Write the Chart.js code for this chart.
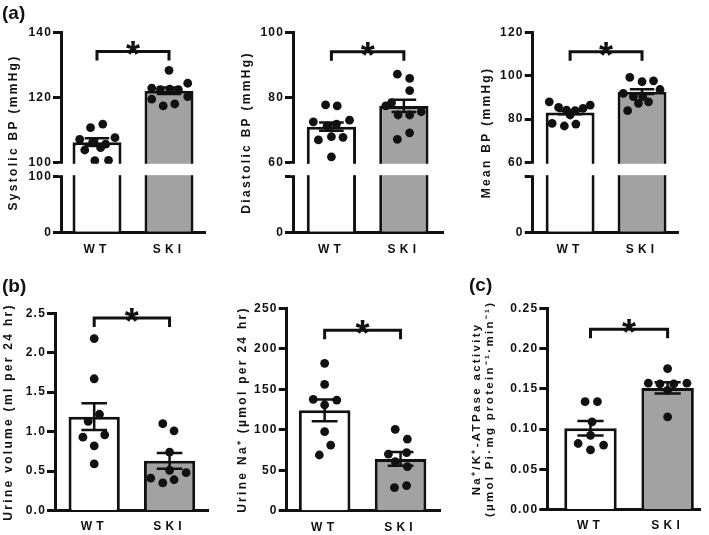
<!DOCTYPE html>
<html>
<head>
<meta charset="utf-8">
<script src="https://cdn.jsdelivr.net/npm/chart.js@4.4.1/dist/chart.umd.min.js"></script>
<style>
  body { margin: 0; background: #fff; }
  #fig { position: relative; width: 709px; height: 535px; overflow: hidden; }
  #fig canvas { position: absolute; }
  .tag { position: absolute; font: bold 19px "Liberation Sans", Arial, sans-serif; line-height: 19px; color: #111; }
</style>
</head>
<body>
<div id="fig">
  <canvas id="sys" width="230" height="265" style="left:0;top:0"></canvas>
  <canvas id="dia" width="230" height="265" style="left:230px;top:0"></canvas>
  <canvas id="map" width="249" height="265" style="left:460px;top:0"></canvas>
  <canvas id="vol" width="230" height="270" style="left:0;top:265px"></canvas>
  <canvas id="na" width="230" height="270" style="left:230px;top:265px"></canvas>
  <canvas id="atp" width="249" height="270" style="left:460px;top:265px"></canvas>
  <div class="tag" style="left:2px;top:3px">(a)</div>
  <div class="tag" style="left:2px;top:276px">(b)</div>
  <div class="tag" style="left:469px;top:275px">(c)</div>
</div>
<script>
const groups = ["WT", "SKI"];

// (a) systolic BP, mmHg
const sysWT = [110.7, 111.8, 107.1, 107.6, 106.2, 105.6, 103.8, 104.5, 100.5, 100.6];
const sysWTJitter = [-0.09, 0.08, -0.24, 0.25, -0.06, 0.12, -0.17, 0.05, -0.03, 0.16];
const sysSKI = [128.4, 124.4, 122.9, 122.4, 122.6, 122.4, 119.5, 120.3, 117.4, 118.0];
const sysSKIJitter = [0, 0.26, -0.24, -0.12, 0.01, 0.13, -0.24, 0.26, -0.08, 0.08];
const sysMean = [106.2, 122.1];
const sysSem = [1.2, 1.0];
const sysTicks = [0, 100, 100, 120, 140];
const sysTickLabels = ["0", "100", "100", "120", "140"];

// (a) diastolic BP
const diaWT = [77.7, 77.4, 72.5, 73.0, 71.2, 71.8, 66.9, 67.9, 67.7, 61.7];
const diaWTJitter = [-0.08, 0.08, -0.25, 0.25, -0.06, 0.07, -0.18, 0, 0.16, 0];
const diaSKI = [87.2, 85.9, 82.1, 78.4, 77.4, 74.6, 74.6, 75.6, 69.1, 67.1];
const diaSKIJitter = [-0.09, 0.08, 0.08, -0.17, -0.25, -0.08, 0.08, 0.24, 0.08, -0.09];
const diaMean = [71.0, 77.4];
const diaSem = [1.3, 1.9];
const diaTicks = [0, 60, 60, 80, 100];
const diaTickLabels = ["0", "", "60", "80", "100"];

// (a) mean BP
const mapWT = [88.0, 85.4, 84.2, 83.9, 85.0, 86.5, 81.9, 78.0, 76.8, 77.7];
const mapWTJitter = [-0.29, -0.16, -0.05, 0.07, 0.18, 0.28, 0, -0.25, -0.08, 0.08];
const mapSKI = [99.3, 97.3, 97.7, 93.7, 91.9, 90.4, 90.4, 88.0, 87.3, 83.9];
const mapSKIJitter = [-0.17, 0, 0.16, 0.25, -0.26, -0.12, 0.01, 0.09, -0.05, -0.2];
const mapMean = [83.0, 92.7];
const mapSem = [0.7, 1.1];
const mapTicks = [0, 60, 60, 80, 100, 120];
const mapTickLabels = ["0", "", "60", "80", "100", "120"];

// (b) urine volume, ml per 24 hr
const volWT = [2.18, 1.67, 1.22, 1.13, 0.93, 0.96, 0.82, 0.59];
const volWTJitter = [0, 0, 0.07, -0.08, -0.15, 0.14, 0, 0];
const volSKI = [1.10, 1.01, 0.74, 0.51, 0.48, 0.41, 0.39, 0.35];
const volSKIJitter = [-0.09, 0.06, 0, 0, 0.22, -0.25, 0.06, -0.09];
const volMean = [1.19, 0.63];
const volSem = [0.17, 0.10];
const volTicks = [0, 0.5, 1.0, 1.5, 2.0, 2.5];
const volTickLabels = ["0.0", "0.5", "1.0", "1.5", "2.0", "2.5"];

// (b) urine Na+, umol per 24 hr
const naWT = [182, 156, 137.6, 136.7, 130.6, 97.6, 81.1, 68.8];
const naWTJitter = [0, 0, -0.15, 0.16, 0, 0, 0.08, -0.07];
const naSKI = [100.5, 88.5, 70, 71.7, 60.5, 54.4, 28.4, 30.9];
const naSKIJitter = [-0.07, 0.09, -0.16, 0.08, -0.07, 0.09, -0.08, 0.08];
const naMean = [124, 64];
const naSem = [13.4, 8.6];
const naTicks = [0, 50, 100, 150, 200, 250];
const naTickLabels = ["0", "50", "100", "150", "200", "250"];

// (c) Na+/K+-ATPase activity
const atpWT = [0.134, 0.134, 0.109, 0.092, 0.082, 0.080, 0.074];
const atpWTJitter = [-0.07, 0.09, 0.02, 0, -0.16, 0.17, 0];
const atpSKI = [0.175, 0.157, 0.156, 0.156, 0.157, 0.148, 0.115];
const atpSKIJitter = [0, -0.25, -0.1, 0.08, 0.25, 0, 0];
const atpMean = [0.101, 0.151];
const atpSem = [0.009, 0.007];
const atpTicks = [0, 0.05, 0.10, 0.15, 0.20, 0.25];
const atpTickLabels = ["0.00", "0.05", "0.10", "0.15", "0.20", "0.25"];

// significance bracket heights (in axis units)
const brackets = { sys: 134.2, dia: 94.1, map: 111.2, vol: 2.44, na: 223, atp: 0.224 };

const FONT = '"Liberation Sans", Arial, sans-serif';
const INK = "#111";
const GREY = "#a2a2a2";

// linear scale that can space out its letters (prism style)
class SpacedLinearScale extends Chart.LinearScale {
  drawLabels(area) {
    this.ctx.letterSpacing = (this.options.ticks.spacing || 0) + "px";
    super.drawLabels(area);
    this.ctx.letterSpacing = "0px";
  }
  drawTitle() {
    this.ctx.letterSpacing = (this.options.title.spacing || 0) + "px";
    super.drawTitle();
    this.ctx.letterSpacing = "0px";
  }
}
SpacedLinearScale.id = "spacedLinear";
SpacedLinearScale.defaults = {};

// same, with a break: values below brk.at take the lower "low" share of the axis
class BrokenLinearScale extends SpacedLinearScale {
  getPixelForValue(value) {
    if (value === null || value === undefined || isNaN(value)) return NaN;
    const brk = this.options.brk;
    const upper = 1 - brk.low - brk.gap;
    let dec;
    if (value <= brk.at) dec = ((value - this.min) / (brk.at - this.min)) * brk.low;
    else dec = brk.low + brk.gap + ((value - brk.at) / (this.max - brk.at)) * upper;
    return this.getPixelForDecimal(dec);
  }
  getValueForPixel(pixel) {
    const brk = this.options.brk;
    const dec = this.getDecimalForPixel(pixel);
    if (dec <= brk.low) return this.min + (dec / brk.low) * (brk.at - this.min);
    return brk.at + ((dec - brk.low - brk.gap) / (1 - brk.low - brk.gap)) * (this.max - brk.at);
  }
}
BrokenLinearScale.id = "brokenLinear";
BrokenLinearScale.defaults = {};

Chart.register(SpacedLinearScale, BrokenLinearScale);

// error bars, the axis gap and the * bracket
function extras(p) {
  return {
    id: "extras",
    afterDatasetsDraw(chart) {
      const { ctx, chartArea } = chart;
      const x = chart.scales.x;
      const y = chart.scales.y;
      const unit = x.getPixelForValue(1) - x.getPixelForValue(0);
      ctx.save();
      ctx.letterSpacing = "0px";
      if (p.brk) {
        const top = y.getPixelForValue(p.brk.at + 1e-6);
        const bottom = y.getPixelForValue(p.brk.at);
        ctx.fillStyle = "#fff";
        ctx.fillRect(chartArea.left - 3, top + 1.5, chartArea.right - chartArea.left + 8, bottom - top - 3);
      }
      ctx.strokeStyle = INK;
      ctx.lineWidth = 2.5;
      p.mean.forEach((m, i) => {
        const cx = x.getPixelForValue(i);
        const hi = y.getPixelForValue(m + p.sem[i]);
        const lo = y.getPixelForValue(m - p.sem[i]);
        const cap = unit * 0.17;
        ctx.beginPath();
        ctx.moveTo(cx, hi); ctx.lineTo(cx, lo);
        ctx.moveTo(cx - cap, hi); ctx.lineTo(cx + cap, hi);
        ctx.moveTo(cx - cap, lo); ctx.lineTo(cx + cap, lo);
        ctx.stroke();
      });
      const by = y.getPixelForValue(p.bracket);
      const x0 = x.getPixelForValue(0);
      const x1 = x.getPixelForValue(1);
      ctx.lineWidth = 3;
      ctx.beginPath();
      ctx.moveTo(x0, by + 9); ctx.lineTo(x0, by); ctx.lineTo(x1, by); ctx.lineTo(x1, by + 9);
      ctx.stroke();
      ctx.fillStyle = INK;
      ctx.font = "bold 36px " + FONT;
      ctx.textAlign = "center";
      ctx.textBaseline = "alphabetic";
      ctx.fillText("*", (x0 + x1) / 2, by + 16);
      ctx.restore();
    }
  };
}

function makePanel(p) {
  const dots = p.wt.map((v, i) => ({ x: p.wtJitter[i], y: v }))
    .concat(p.ski.map((v, i) => ({ x: 1 + p.skiJitter[i], y: v })));
  const font = (size) => ({ family: FONT, size: size, weight: "bold" });

  return new Chart(document.getElementById(p.id), {
    type: "bar",
    data: {
      datasets: [
        {
          type: "scatter",
          data: dots,
          pointRadius: 4.4,
          pointBackgroundColor: INK,
          pointBorderWidth: 0,
          clip: false,
          order: 0
        },
        {
          type: "bar",
          data: p.mean.map((m, i) => ({ x: i, y: m })),
          backgroundColor: ["#fff", GREY],
          borderColor: INK,
          borderWidth: 3,
          borderSkipped: "start",
          barPercentage: 0.68,
          categoryPercentage: 1,
          clip: false,
          order: 1
        }
      ]
    },
    options: {
      responsive: false,
      animation: false,
      layout: { padding: { left: 0, top: p.padTop, right: p.padRight, bottom: 0 } },
      plugins: { legend: { display: false }, tooltip: { enabled: false } },
      scales: {
        x: {
          type: "spacedLinear",
          min: p.xMin,
          max: p.xMax,
          offset: false,
          afterBuildTicks: (s) => { s.ticks = groups.map((g, i) => ({ value: i })); },
          afterFit: (s) => { s.height = p.xHeight; },
          ticks: { callback: (v, i) => groups[i], font: font(12), color: INK, padding: p.xPad, spacing: 4.2, autoSkip: false, maxRotation: 0 },
          grid: { display: false, drawTicks: false },
          border: { display: true, width: 3, color: INK }
        },
        y: {
          type: p.brk ? "brokenLinear" : "spacedLinear",
          min: p.min,
          max: p.max,
          brk: p.brk,
          afterBuildTicks: (s) => {
            s.ticks = p.ticks.map((v, i) => ({ value: v === p.ticks[i - 1] ? v + 1e-6 : v }));
          },
          afterFit: (s) => { s.width = p.yWidth; },
          ticks: { callback: (v, i) => p.tickLabels[i], font: font(12), color: INK, padding: 1, spacing: 1.2, autoSkip: false },
          grid: { drawOnChartArea: false, drawTicks: true, tickLength: 8, tickWidth: 3, tickColor: INK, color: INK },
          border: { display: true, width: 3, color: INK },
          title: { display: true, text: p.title, font: font(p.titleSize || 12), color: INK, spacing: 2.3, padding: { top: p.titlePad, bottom: 0 } }
        }
      }
    },
    plugins: [extras(p)]
  });
}

const brkA = { at: 100, low: 0.2786, gap: 0.0721 };

makePanel({
  id: "sys", wt: sysWT, wtJitter: sysWTJitter, ski: sysSKI, skiJitter: sysSKIJitter,
  mean: sysMean, sem: sysSem, bracket: brackets.sys, ticks: sysTicks, tickLabels: sysTickLabels,
  min: 0, max: 140, brk: brkA, title: "Systolic BP (mmHg)",
  padTop: 32.7, padRight: 25, yWidth: 61, xHeight: 32.7, xPad: 10.5, titlePad: 6.8, xMin: -0.5, xMax: 1.5
});
makePanel({
  id: "dia", wt: diaWT, wtJitter: diaWTJitter, ski: diaSKI, skiJitter: diaSKIJitter,
  mean: diaMean, sem: diaSem, bracket: brackets.dia, ticks: diaTicks, tickLabels: diaTickLabels,
  min: 0, max: 100, brk: { at: 60, low: 0.2786, gap: 0.0721 }, title: "Diastolic BP (mmHg)",
  padTop: 32.7, padRight: 17, yWidth: 63, xHeight: 32.7, xPad: 10.5, titlePad: 9.8, xMin: -0.53, xMax: 1.54
});
makePanel({
  id: "map", wt: mapWT, wtJitter: mapWTJitter, ski: mapSKI, skiJitter: mapSKIJitter,
  mean: mapMean, sem: mapSem, bracket: brackets.map, ticks: mapTicks, tickLabels: mapTickLabels,
  min: 0, max: 120, brk: { at: 60, low: 0.2786, gap: 0.0721 }, title: "Mean BP (mmHg)",
  padTop: 32.7, padRight: 31, yWidth: 72.7, xHeight: 32.7, xPad: 10.5, titlePad: 19.8, xMin: -0.52, xMax: 1.5
});
makePanel({
  id: "vol", wt: volWT, wtJitter: volWTJitter, ski: volSKI, skiJitter: volSKIJitter,
  mean: volMean, sem: volSem, bracket: brackets.vol, ticks: volTicks, tickLabels: volTickLabels,
  min: 0, max: 2.5, brk: null, title: "Urine volume (ml per 24 hr)",
  padTop: 48.3, padRight: 22, yWidth: 55, xHeight: 24.5, xPad: 9.3, titlePad: 1.4, xMin: -0.52, xMax: 1.51
});
makePanel({
  id: "na", wt: naWT, wtJitter: naWTJitter, ski: naSKI, skiJitter: naSKIJitter,
  mean: naMean, sem: naSem, bracket: brackets.na, ticks: naTicks, tickLabels: naTickLabels,
  min: 0, max: 250, brk: null, title: "Urine Na\u207A (\u00B5mol per 24 hr)",
  padTop: 43.3, padRight: 20, yWidth: 56.7, xHeight: 24.3, xPad: 9.3, titlePad: 5.8, xMin: -0.5, xMax: 1.52
});
makePanel({
  id: "atp", wt: atpWT, wtJitter: atpWTJitter, ski: atpSKI, skiJitter: atpSKIJitter,
  mean: atpMean, sem: atpSem, bracket: brackets.atp, ticks: atpTicks, tickLabels: atpTickLabels,
  min: 0, max: 0.25, brk: null, titleSize: 11.5,
  title: ["Na\u207A/K\u207A-ATPase activity", "(\u00B5mol Pi\u00B7mg protein\u207B\u00B9\u00B7min\u207B\u00B9)"],
  padTop: 43.3, padRight: 9, yWidth: 87.3, xHeight: 25.5, xPad: 9.3, titlePad: 9.5, xMin: -0.56, xMax: 1.42
});
</script>
</body>
</html>
